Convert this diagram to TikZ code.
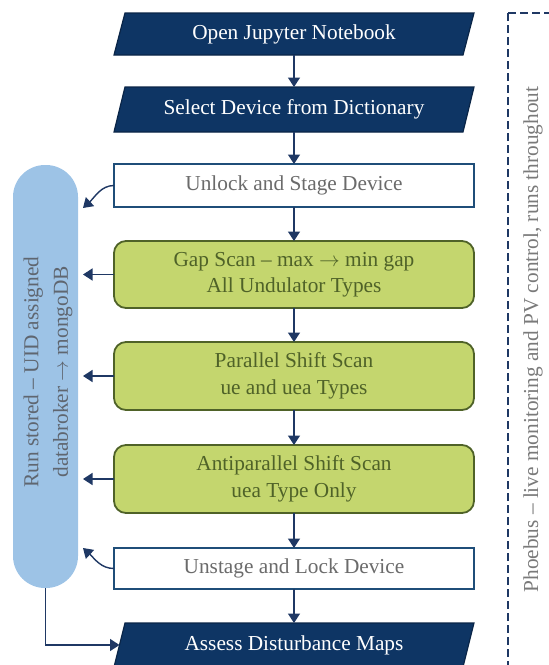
\documentclass[tikz,border=0pt]{standalone}
\usepackage{fontspec}
\setmainfont{Liberation Serif}
\usetikzlibrary{arrows.meta,backgrounds,calc}
\definecolor{navy}{HTML}{0E3564}
\definecolor{navyline}{HTML}{0A2547}
\definecolor{boxline}{HTML}{1F4E79}
\definecolor{arrowc}{HTML}{1F3864}
\definecolor{greenfill}{HTML}{C4D66E}
\definecolor{greenline}{HTML}{4F6228}
\definecolor{greentext}{HTML}{4F6228}
\definecolor{graytext}{HTML}{6B6B6B}
\definecolor{pillblue}{HTML}{9DC3E6}
\definecolor{pilltext}{HTML}{5F6670}
\definecolor{phoebusc}{HTML}{7A7A7A}
\definecolor{dashc}{HTML}{1F3864}
\newcommand{\rarr}{\ensuremath{\rightarrow}}
\begin{document}
\begin{tikzpicture}[x=1pt,y=-1pt,
  base/.style={inner sep=0pt, outer sep=0pt, minimum width=360pt, align=center,
    font=\fontsize{21.3}{26.5}\selectfont},
  navybox/.style={base, text=white},
  whitebox/.style={base, draw=boxline, line width=1.8pt, fill=white, text=graytext},
  greenbox/.style={base, draw=greenline, line width=1.8pt, fill=greenfill,
    rounded corners=12pt, text=greentext},
  arr/.style={draw=arrowc, line width=1.4pt, -{Triangle[length=9.5pt,width=12pt]}},
  sidetext/.style={rotate=90, align=center, inner sep=0pt,
    font=\fontsize{21.3}{29.5}\selectfont},
  frame/.style={draw=dashc, line width=2pt, dash pattern=on 7.5pt off 4.5pt}
]
\useasboundingbox (0,0) rectangle (549,665);
\clip (0,0) rectangle (549,665);

% Phoebus frame
\draw[frame] (508,13) -- (560,13);
\draw[frame] (508,13) -- (508,680);
\node[sidetext, text=phoebusc] (phoebus) at (533,339.5)
  {Phoebus – live monitoring and PV control, runs throughout};

% storage pill
\node[fill=pillblue, rounded corners=32pt, minimum width=65pt, minimum height=423pt,
  inner sep=0pt, outer sep=0pt] (pill) at (45.5,376.5) {};
\node[sidetext, text=pilltext] (pilltxt) at (48,372)
  {Run stored – UID assigned\\databroker \rarr{} mongoDB};

% main flow
\node[navybox, minimum height=42pt] (b1) at (294,34) {Open Jupyter Notebook};
\node[navybox, minimum height=45pt] (b2) at (294,109.5) {Select Device from Dictionary};
\node[whitebox, minimum height=43pt] (b3) at (294,185.5) {Unlock and Stage Device};
\node[greenbox, minimum height=67pt] (b4) at (294,274.5)
  {Gap Scan – max \rarr{} min gap\\All Undulator Types};
\node[greenbox, minimum height=68pt] (b5) at (294,376)
  {Parallel Shift Scan\\ue and uea Types};
\node[greenbox, minimum height=68pt] (b6) at (294,479)
  {Antiparallel Shift Scan\\uea Type Only};
\node[whitebox, minimum height=41pt] (b7) at (294,568.5) {Unstage and Lock Device};
\node[navybox, minimum height=44pt] (b8) at (294,645) {Assess Disturbance Maps};

\begin{scope}[on background layer]
\foreach \n in {b1,b2,b8}
  \filldraw[fill=navy, draw=navyline, line width=1.2pt]
    (\n.south west) -- ([xshift=11pt]\n.north west) -- (\n.north east)
    -- ([xshift=-11pt]\n.south east) -- cycle;
\end{scope}

% vertical connectors
\draw[arr] (b1) -- (b2);
\draw[arr] (b2) -- (b3);
\draw[arr] (b3) -- (b4);
\draw[arr] (b4) -- (b5);
\draw[arr] (b5) -- (b6);
\draw[arr] (b6) -- (b7);
\draw[arr] (b7) -- (b8);

% connectors to storage
\coordinate (px) at (83,0);
\coordinate (t3) at (83,208);
\coordinate (t7) at (83,548);
\draw[arr] (b3.west) .. controls +(-13,0) and +(12,-11) .. (t3);
\foreach \b in {b4,b5,b6}
  \draw[arr] (\b.west) -- (\b.west -| px);
\draw[arr] (b7.west) .. controls +(-13,0) and +(12,11) .. (t7);

% storage to assessment
\coordinate (b8l) at ($(b8.south west)!0.5!([xshift=11pt]b8.north west)$);
\draw[arr] (pill.south) |- (b8l);
\end{tikzpicture}
\end{document}
